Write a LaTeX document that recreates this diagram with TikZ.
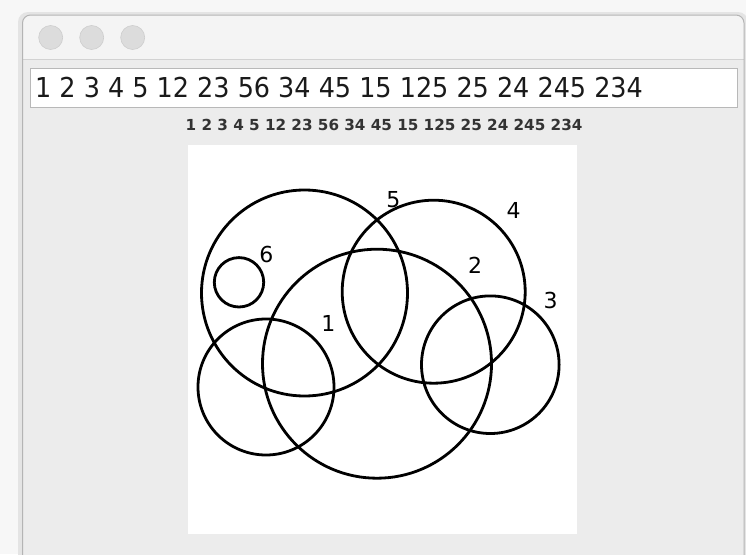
\documentclass[tikz,border=0pt]{standalone}
\usepackage{fontspec}
\setmainfont{DejaVu Sans}
\usepackage{graphicx}
\definecolor{bgout}{HTML}{F7F7F7}
\definecolor{shadowc}{HTML}{E4E4E4}
\definecolor{titlec}{HTML}{F4F4F4}
\definecolor{contentc}{HTML}{ECECEC}
\definecolor{winborder}{HTML}{B4B4B4}
\definecolor{sepline}{HTML}{D2D2D2}
\definecolor{lightc}{HTML}{DCDCDC}
\definecolor{lightborder}{HTML}{CDCDCD}
\definecolor{fieldborder}{HTML}{B8B8B8}
\definecolor{textc}{HTML}{1A1A1A}
\definecolor{smalltextc}{HTML}{333333}
\tikzset{
  venn/.style={circle, draw=black, line width=2.8pt, inner sep=0pt},
  lbl/.style={font=\fontsize{22}{24}\selectfont, text=black, inner sep=0pt},
  light/.style={circle, fill=lightc, draw=lightborder, line width=0.6pt, minimum size=24pt, inner sep=0pt}
}
\begin{document}
\begin{tikzpicture}[x=1pt,y=-1pt]
\useasboundingbox (0,0) rectangle (746,554);
\fill[bgout] (0,0) rectangle (746,554);
% window shadow
\fill[shadowc, rounded corners=10pt] (18,12) rectangle (748,570);
% window
\fill[contentc, rounded corners=8pt] (22.5,15) rectangle (744,570);
\fill[titlec, rounded corners=8pt] (22.5,15) rectangle (744,40);
\fill[titlec] (22.5,30) rectangle (744,59.5);
\draw[sepline, line width=1pt] (22.5,59.5) -- (744,59.5);
\draw[winborder, line width=1pt, rounded corners=8pt] (22.5,570) -- (22.5,15) -- (744,15) -- (744,570);
% traffic lights
\node[light] (l1) at (50.7,37.5) {};
\node[light] (l2) at (91.7,37.5) {};
\node[light] (l3) at (132.7,37.5) {};
% text field
\node[draw=fieldborder, fill=white, line width=1pt, minimum width=707pt, minimum height=39pt, inner sep=0pt, anchor=north west] (field) at (29.5,67.5) {};
\node[anchor=west, inner sep=0pt, text=textc] (fieldtext) at (35,87.5) {\scalebox{0.93}[1]{\fontsize{27.4}{30}\selectfont 1 2 3 4 5 12 23 56 34 45 15 125 25 24 245 234}};
% small label
\node[inner sep=0pt, text=smalltextc] (small) at (384,125) {\fontsize{15.2}{17}\selectfont\bfseries 1 2 3 4 5 12 23 56 34 45 15 125 25 24 245 234};
% panel
\node[fill=white, minimum width=389pt, minimum height=389pt, inner sep=0pt, anchor=north west] (panel) at (188,144.5) {};
% circles
\node[venn, minimum size=206pt] (c5) at (304.5,293) {};
\node[venn, minimum size=183pt] (c4) at (433.7,291.7) {};
\node[venn, minimum size=229pt] (c1) at (377,363.7) {};
\node[venn, minimum size=136pt] (c0) at (266,387) {};
\node[venn, minimum size=137.6pt] (c3) at (490.3,364.7) {};
\node[venn, minimum size=49.4pt] (c6) at (239,282.3) {};
% labels
\node[lbl] (t6) at (266.3,254.3) {6};
\node[lbl] (t5) at (393.3,200) {5};
\node[lbl] (t4) at (513.7,210.3) {4};
\node[lbl] (t2) at (475,265) {2};
\node[lbl] (t3) at (550.7,300) {3};
\node[lbl] (t1) at (328.3,323.3) {1};
\end{tikzpicture}
\end{document}
